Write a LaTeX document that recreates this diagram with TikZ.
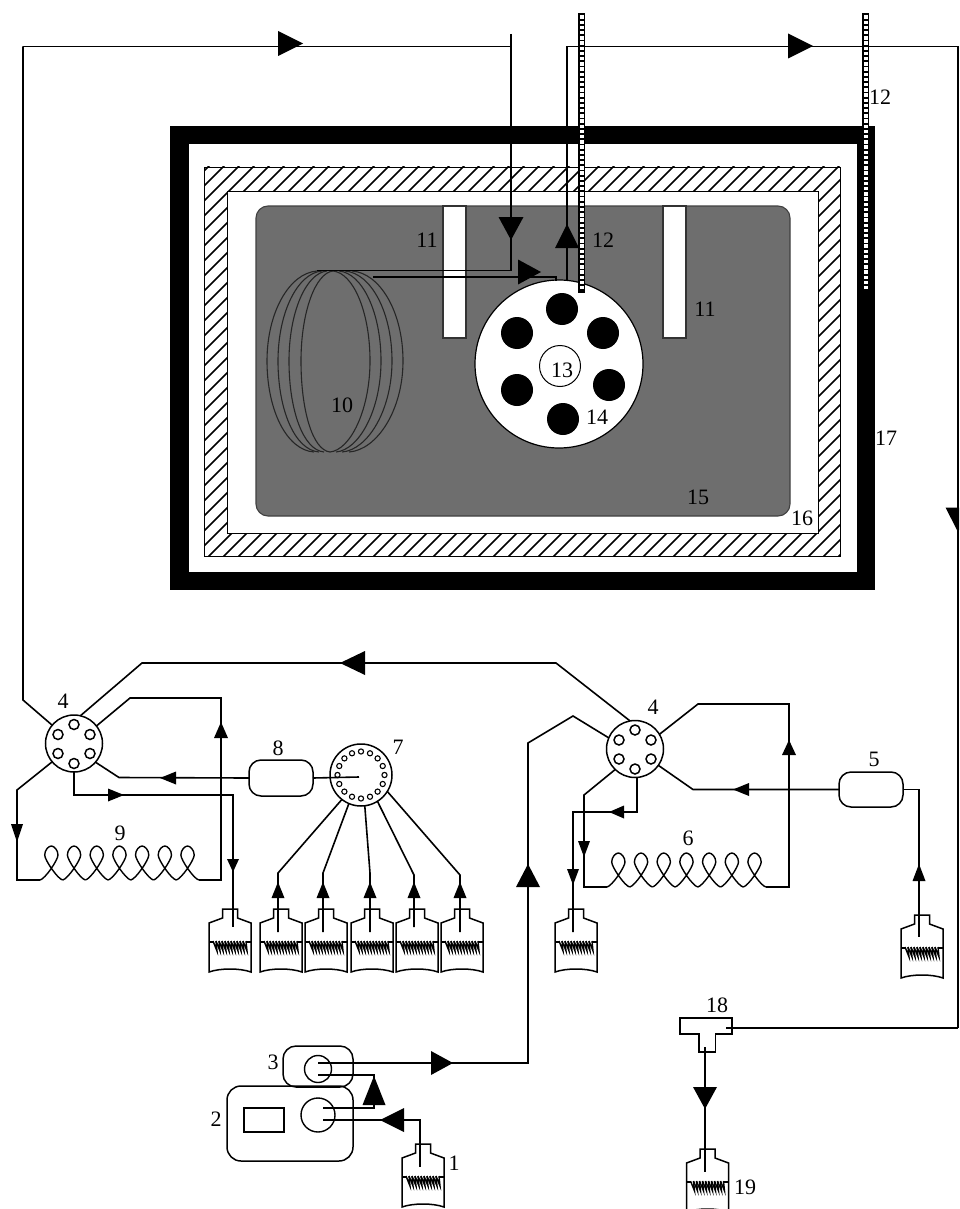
\documentclass[tikz,border=0pt]{standalone}
\usepackage{fontspec}
\setmainfont{Liberation Serif}
\newcommand{\arV}[4]{\fill[black] (#1,#2) -- (#1-#4,#3) -- (#1+#4,#3) -- cycle;}
\newcommand{\arH}[4]{\fill[black] (#2,#1) -- (#3,#1-#4) -- (#3,#1+#4) -- cycle;}
\newcommand{\valveports}[1]{\foreach \dx/\dy in {0/-19,-16/-9,16/-9,-16/10,16/10,0/20}{\draw[ln,fill=white] (#1) ++(\dx,\dy) circle (5);}}
\tikzset{
  x=1pt,y=-1pt,
  ln/.style={line width=1.5pt,black,line join=miter},
  pipe/.style={line width=1.6pt,black,line join=miter},
  lbl/.style={font=\fontsize{22}{24}\selectfont,inner sep=0pt,text=black},
  valve/.style={circle,draw=black,line width=1.5pt,fill=white,minimum size=57pt,inner sep=0pt,outer sep=0pt},
  vessel/.style={rectangle,draw=black,line width=1.5pt,rounded corners=12pt,fill=white,inner sep=0pt,outer sep=0pt},
  hole/.style={circle,fill=black,inner sep=0pt,outer sep=0pt,minimum size=32pt},
  bottle/.pic={
    \draw[ln] (-21,14) -- (-7.5,9) -- (-7.5,0) -- (7.5,0) -- (7.5,9) -- (21,14) -- (21,63)
      .. controls (10,59) and (-10,59) .. (-21,63) -- cycle;
    \draw[line width=1.4pt] (-21,33) -- (-17,33);
    \draw[line width=1.4pt] (16,33) -- (21,33);
    \foreach \s in {-17,-14,...,13}{
      \draw[line width=1.4pt] (\s,32) -- (\s+4,42) -- (\s+3,32);
    }
  },
  coilrun/.pic={
    \foreach \k in {0,...,6}{
      \pgfmathsetmacro{\X}{22.7*\k}
      \draw[line width=1.4pt,black] (\X,0) .. controls (\X+5,-1) and (\X+18,-20) .. (\X+18,-25)
        .. controls (\X+18,-30) and (\X+14,-34) .. (\X+11.3,-34)
        .. controls (\X+8.6,-34) and (\X+4.7,-30) .. (\X+4.7,-25)
        .. controls (\X+4.7,-20) and (\X+17.7,-1) .. (\X+22.7,0);
    }
  },
  thermo/.pic={
    \fill[black] (0,0) rectangle (7.2,280);
    \foreach \q in {2.5,7.7,...,277}{\fill[white] (1.6,\q) rectangle (5.6,\q+3.4);}
  }
}
\begin{document}
\begin{tikzpicture}
\useasboundingbox (0,0) rectangle (959,1209);
\clip (0,0) rectangle (959,1209);
\fill[white] (0,0) rectangle (959,1209);

% oven wall
\fill[black] (170,126) rectangle (875,590);
\fill[white] (189,144.5) rectangle (857,571.5);
% insulation
\begin{scope}
  \clip (204,167) rectangle (840,556);
  \foreach \c in {360,375,...,1410}{\draw[line width=1.6pt] (\c-150,150) -- (\c-570,570);}
\end{scope}
\draw[line width=0.8pt] (204,167) rectangle (840,556);
\draw[line width=0.8pt,fill=white] (227.5,191) rectangle (818,533);
% bath
\draw[line width=1.1pt,draw=black!75,fill=black!57,rounded corners=12pt] (256,206) rectangle (790,516);
\node[rectangle,draw=black!80,line width=1.1pt,fill=white,minimum width=23pt,minimum height=132pt,inner sep=0pt] (slotA) at (454.5,272) {};
\node[rectangle,draw=black!80,line width=1.1pt,fill=white,minimum width=23pt,minimum height=132pt,inner sep=0pt] (slotB) at (674.5,272) {};

% column coil
\foreach \xt/\L in {317/267,322/278,327/289,333/301}{
  \pgfmathsetmacro{\rr}{\xt-\L}
  \draw[line width=1.1pt,black!85] (\xt,271) .. controls (\xt-0.55*\rr,273) and (\L,312) .. (\L,361)
     .. controls (\L,410) and (\xt-0.55*\rr-3,450) .. (\xt-3,452);
}
\foreach \xt/\R in {333/370,339/381,345/392,352/403}{
  \pgfmathsetmacro{\rr}{\R-\xt}
  \draw[line width=1.1pt,black!85] (\xt,271) .. controls (\xt+0.55*\rr,273) and (\R,312) .. (\R,361)
     .. controls (\R,410) and (\xt+0.55*\rr-3,450) .. (\xt-3,452);
}
\coordinate (coilTop) at (317,270.5);
\coordinate (coilOut) at (373,277);

% carousel
\node[circle,draw=black,line width=1.2pt,fill=white,minimum size=168pt,inner sep=0pt,outer sep=0pt] (disk) at (559,364) {};
\node[hole] (h1) at (562,309) {};
\node[hole] (h2) at (517,333) {};
\node[hole] (h3) at (603,333) {};
\node[hole] (h4) at (517,390) {};
\node[hole] (h5) at (609,385) {};
\node[hole] (h6) at (563,419) {};
\node[circle,draw=black,line width=1pt,fill=white,minimum size=41pt,inner sep=0pt] (hub) at (560,366) {};

% oven pipes
\coordinate (inStub) at (511,34);
\coordinate (inBend) at (511,46.5);
\coordinate (inJoin) at (511,270.5);
\coordinate (diskIn) at (556,281);
\coordinate (diskOut) at (567,281);
\coordinate (leftTop) at (23,46.5);
\coordinate (rightTop) at (958,46.5);
\coordinate (rightTee) at (958,1028);
\draw[ln] (inStub) -- (inJoin) -- (coilTop);
\draw[ln] (coilOut) -- (556,277) -- (diskIn);
\draw[ln] (diskOut) -- (567,46.5) -- (rightTop) -- (rightTee);
\arV{511}{240}{217}{12.5}
\arV{567}{224}{248}{12}
\arH{272}{541}{518}{12.5}
\arH{43.5}{303}{278}{12.5}
\arH{46}{813}{788}{12.5}
\arV{958}{532}{507.5}{12.5}

% thermocouples
\pic at (578,13) {thermo};
\pic at (862,13) {thermo};

% valves
\node[valve] (vL) at (74,743.5) {};
\node[valve] (vR) at (635,749) {};
\valveports{vL}
\valveports{vR}
\node[circle,draw=black,line width=1.5pt,fill=white,minimum size=62pt,inner sep=0pt,outer sep=0pt] (sel) at (361,775) {};
\foreach \a in {0,22.5,...,337.5}{\draw[line width=1.1pt] (sel) ++(\a:23.5) circle (2.6);}
\node[vessel,minimum width=64pt,minimum height=36pt] (v8) at (281,778) {};
\node[vessel,minimum width=64pt,minimum height=35pt] (v5) at (871,789.5) {};

% coils
\coordinate (c9L) at (40,880);
\coordinate (c9R) at (199,880);
\coordinate (c6L) at (607,887);
\coordinate (c6R) at (766,887);
\pic at (c9L) {coilrun};
\pic at (c6L) {coilrun};

% bottles
\pic at (230,909) {bottle};
\pic at (281,909) {bottle};
\pic at (326,909) {bottle};
\pic at (372,909) {bottle};
\pic at (417,909) {bottle};
\pic at (462,909) {bottle};
\pic at (576,909) {bottle};
\pic at (922,915) {bottle};
\pic at (423,1144) {bottle};
\pic at (707.5,1149) {bottle};
\coordinate (bA) at (233,927);
\coordinate (bB) at (278,932);
\coordinate (bC) at (323,932);
\coordinate (bD) at (370,932);
\coordinate (bE) at (414,927);
\coordinate (bF) at (460,932);
\coordinate (bG) at (573,932);
\coordinate (bH) at (919,937);
\coordinate (b1) at (420,1167);
\coordinate (b19) at (705,1172);

% left valve pipes
\draw[pipe] (leftTop) -- (23,700) -- (vL.140);
\draw[ln] (inBend) -- (leftTop);
\draw[pipe] (vL.77) -- (142,663) -- (556,663) -- (vR.100);
\draw[pipe] (vL.38) -- (130,698) -- (221,698) -- (221,880) -- (c9R);
\draw[pipe] (vL.220) -- (17,790) -- (17,880) -- (c9L);
\draw[pipe] (vL.-41) -- (119,777.5) -- (v8.west);
\draw[pipe] (vL.270) -- (74,795) -- (233,795) -- (bA);
\draw[pipe] (v8.east) -- (359,777);
\arH{663}{340}{365}{12}
\arV{221}{722}{738}{7}
\arV{17}{842}{824}{6}
\arH{778}{160}{176}{6.5}
\arH{795}{124}{108}{6.5}
\arV{233}{872}{859}{6}

% selector pipes
\draw[pipe] (bB) -- (278,873) -- (sel.232);
\draw[pipe] (bC) -- (323,873) -- (sel.247);
\draw[pipe] (bD) -- (370,873) -- (sel.277);
\draw[pipe] (bE) -- (414,875) -- (sel.302);
\draw[pipe] (bF) -- (460,875) -- (sel.328);
\foreach \x in {278,323,370,414,460}{\arV{\x}{882}{898}{6.5}}

% right valve pipes
\draw[pipe] (vR.31) -- (698,704) -- (789,704) -- (789,887) -- (c6R);
\draw[pipe] (vR.157) -- (573,716) -- (528,743) -- (528,1063) -- (318,1063);
\draw[pipe] (vR.226) -- (584,795) -- (584,887) -- (c6L);
\draw[pipe] (vR.274) -- (637,812) -- (573,812) -- (bG);
\draw[pipe] (vR.-35) -- (693,789.5) -- (v5.west);
\draw[pipe] (v5.east) -- (919,789.5) -- (bH);
\arV{789}{740}{755}{7}
\arV{528}{864}{887}{12}
\arV{584}{857}{841}{6}
\arH{812}{609}{624}{6.5}
\arV{573}{885}{869}{6}
\arH{789.5}{733}{749}{6.5}
\arV{919}{864}{881}{6.5}

% pump
\node[vessel,minimum width=126pt,minimum height=75pt,fill=none,rounded corners=14pt] (pumpBody) at (290,1123.5) {};
\node[vessel,minimum width=70pt,minimum height=41pt,fill=none,rounded corners=13pt] (pumpHead) at (318,1066.5) {};
\node[rectangle,draw=black,line width=1.5pt,minimum width=40pt,minimum height=24pt,inner sep=0pt] (display) at (264,1120) {};
\node[circle,draw=black,line width=1.4pt,minimum size=27pt,inner sep=0pt] (rotorA) at (318,1069) {};
\node[circle,draw=black,line width=1.4pt,minimum size=34pt,inner sep=0pt] (rotorB) at (318,1115) {};
\coordinate (pB) at (318,1075);
\coordinate (pC) at (323,1108);
\coordinate (pD) at (323,1120);
\draw[pipe] (pB) -- (374,1075) -- (374,1108) -- (pC);
\draw[pipe] (pD) -- (420,1120) -- (b1);
\arH{1063}{453}{431}{12}
\arV{374}{1076}{1105}{11.5}
\arH{1120}{380}{404}{12}

% tee and waste
\coordinate (teeOut) at (705,1047);
\coordinate (teeIn) at (726,1028);
\draw[ln,fill=white] (680,1018) -- (732,1018) -- (732,1034) -- (715.5,1034) -- (715.5,1052) -- (699,1052) -- (699,1034) -- (680,1034) -- cycle;
\draw[pipe] (rightTee) -- (teeIn);
\draw[pipe] (teeOut) -- (b19);
\arV{705}{1109}{1087}{12}

% labels
\node[lbl] (t1) at (454,1163) {1};
\node[lbl] (t2) at (216,1119) {2};
\node[lbl] (t3) at (273,1062) {3};
\node[lbl] (t4a) at (63,701) {4};
\node[lbl] (t4b) at (653,707) {4};
\node[lbl] (t5) at (874,759) {5};
\node[lbl] (t6) at (688,838) {6};
\node[lbl] (t7) at (398,747) {7};
\node[lbl] (t8) at (278,748) {8};
\node[lbl] (t9) at (120,833) {9};
\node[lbl] (t10) at (342,405) {10};
\node[lbl] (t11a) at (427,240) {11};
\node[lbl] (t11b) at (705,309) {11};
\node[lbl] (t12a) at (603,240) {12};
\node[lbl] (t12b) at (880,97) {12};
\node[lbl] (t13) at (562,370) {13};
\node[lbl] (t14) at (597,417) {14};
\node[lbl] (t15) at (698,497) {15};
\node[lbl] (t16) at (802,518) {16};
\node[lbl] (t17) at (886,438) {17};
\node[lbl] (t18) at (717,1005) {18};
\node[lbl] (t19) at (745,1187) {19};
\end{tikzpicture}
\end{document}
